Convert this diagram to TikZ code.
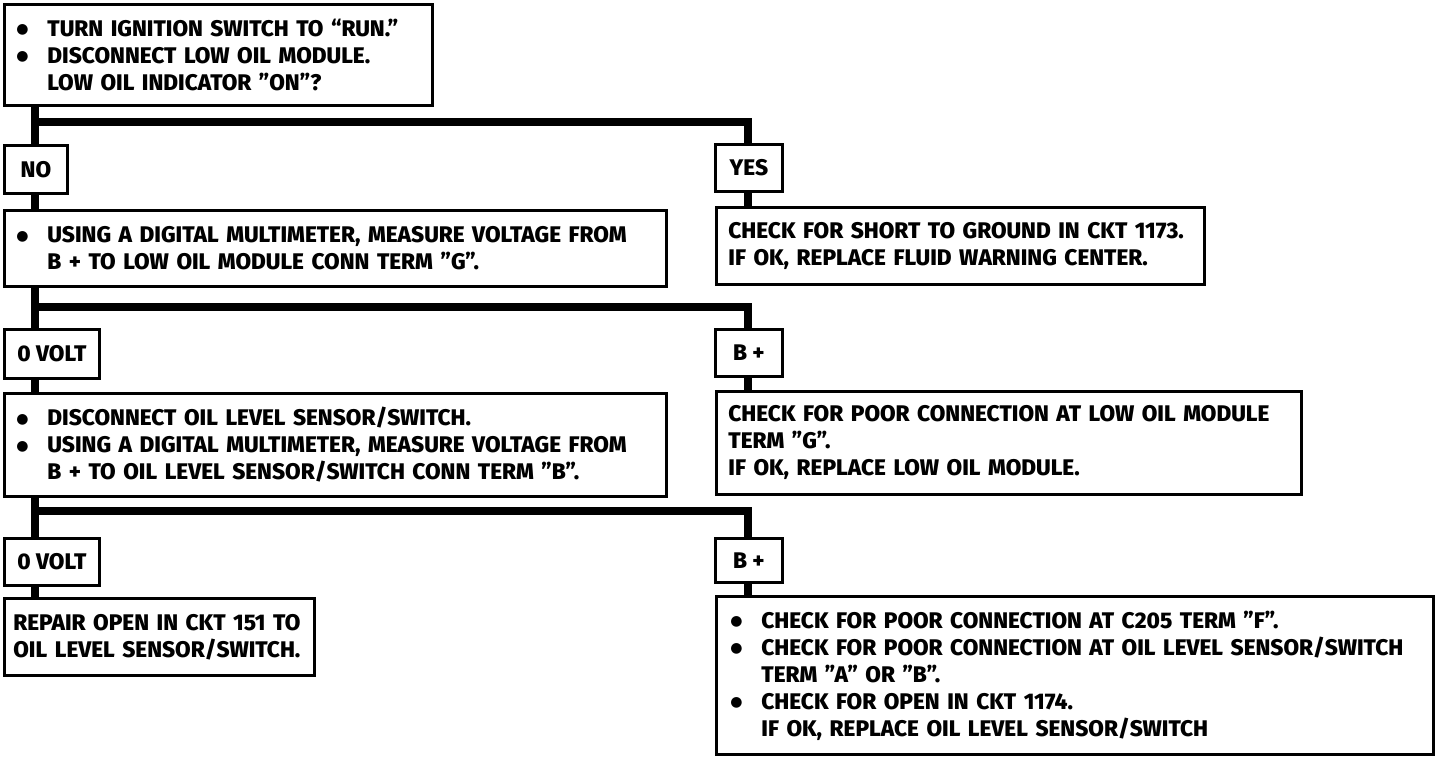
\documentclass[tikz,border=0pt]{standalone}
\usepackage{fontspec}
\setmainfont{Fira Sans}[BoldFont={Fira Sans ExtraBold}]
\newfontfamily\dvfont{DejaVu Sans}
\newcommand\bl{\makebox[15.5pt][l]{\raisebox{1.3pt}{\dvfont\fontsize{7pt}{7pt}\selectfont ●}}}
\newcommand\ind{\hspace*{15.5pt}}
\begin{document}
\begin{tikzpicture}[x=0.5pt,y=-0.5pt,
  box/.style={draw, line width=1.4pt, anchor=north west, inner xsep=6pt, inner ysep=0pt,
    align=left, font=\bfseries\fontsize{11.3pt}{13.5pt}\selectfont},
  lbl/.style={draw, line width=1.4pt, anchor=north west, inner sep=0pt, align=center,
    font=\bfseries\fontsize{11.3pt}{13.5pt}\selectfont},
  conn/.style={line width=3.6pt, line join=miter}]
\useasboundingbox (0,0) rectangle (1456,760);
% left/right trunk positions and bar levels
\coordinate (L) at (35,0);
\coordinate (R) at (748,0);
\coordinate (bar1) at (35,122);
\coordinate (bar2) at (35,307);
\coordinate (bar3) at (35,511);

\node[box, text width=202pt, minimum height=50.5pt] (q1) at (3,3)
  {\bl TURN IGNITION SWITCH TO “RUN.”\\ \bl DISCONNECT LOW OIL MODULE.\\ \ind LOW OIL INDICATOR ”ON”?};
\node[lbl, minimum width=31.5pt, minimum height=24pt] (no) at (3,144) {NO};
\node[lbl, minimum width=33.5pt, minimum height=23.5pt] (yes) at (714,143) {YES};
\node[box, text width=319pt, minimum height=38pt] (q2) at (3,209)
  {\bl USING A DIGITAL MULTIMETER, MEASURE VOLTAGE FROM\\ \ind B + TO LOW OIL MODULE CONN TERM ”G”.};
\node[box, text width=232pt, minimum height=38.5pt] (a1) at (715,206)
  {CHECK FOR SHORT TO GROUND IN CKT 1173.\\ IF OK, REPLACE FLUID WARNING CENTER.};
\node[lbl, minimum width=47.5pt, minimum height=24.5pt] (v1) at (3,328) {0 VOLT};
\node[lbl, minimum width=33.5pt, minimum height=23.5pt] (bp1) at (714,328) {B +};
\node[box, text width=319pt, minimum height=51.5pt] (q3) at (3,392)
  {\bl DISCONNECT OIL LEVEL SENSOR/SWITCH.\\ \bl USING A DIGITAL MULTIMETER, MEASURE VOLTAGE FROM\\ \ind B + TO OIL LEVEL SENSOR/SWITCH CONN TERM ”B”.};
\node[box, text width=280.5pt, minimum height=51.5pt] (a2) at (715,390)
  {CHECK FOR POOR CONNECTION AT LOW OIL MODULE\\ TERM ”G”.\\ IF OK, REPLACE LOW OIL MODULE.};
\node[lbl, minimum width=47.5pt, minimum height=23.5pt] (v2) at (3,537) {0 VOLT};
\node[lbl, minimum width=33.5pt, minimum height=22pt] (bp2) at (714,537) {B +};
\node[box, text width=146pt, minimum height=38.5pt, inner xsep=4.5pt] (a3) at (3,597)
  {REPAIR OPEN IN CKT 151 TO\\ OIL LEVEL SENSOR/SWITCH.};
\node[box, text width=344.5pt, minimum height=79pt, inner xsep=7pt] (a4) at (715,595)
  {\bl CHECK FOR POOR CONNECTION AT C205 TERM ”F”.\\ \bl CHECK FOR POOR CONNECTION AT OIL LEVEL SENSOR/SWITCH\\ \ind TERM ”A” OR ”B”.\\ \bl CHECK FOR OPEN IN CKT 1174.\\ \ind IF OK, REPLACE OIL LEVEL SENSOR/SWITCH};

% connectors
\draw[conn] (q1.south -| L) -- (no.north -| L);
\draw[conn] (bar1) -| (yes.north -| R);
\draw[conn] (no.south -| L) -- (q2.north -| L);
\draw[conn] (yes.south -| R) -- (a1.north -| R);
\draw[conn] (q2.south -| L) -- (v1.north -| L);
\draw[conn] (bar2) -| (bp1.north -| R);
\draw[conn] (v1.south -| L) -- (q3.north -| L);
\draw[conn] (bp1.south -| R) -- (a2.north -| R);
\draw[conn] (q3.south -| L) -- (v2.north -| L);
\draw[conn] (bar3) -| (bp2.north -| R);
\draw[conn] (v2.south -| L) -- (a3.north -| L);
\draw[conn] (bp2.south -| R) -- (a4.north -| R);
\end{tikzpicture}
\end{document}
